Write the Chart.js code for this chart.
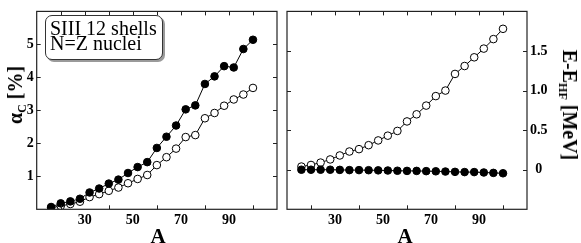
<!DOCTYPE html>
<html>
<head>
<meta charset="utf-8">
<script src="https://cdn.jsdelivr.net/npm/chart.js@4.4.1/dist/chart.umd.min.js"></script>
<style>
  html, body { margin: 0; padding: 0; background: #fff; }
  #wrap { position: relative; width: 581px; height: 243px; overflow: hidden; background: #fff; }
  .cv { position: absolute; top: 0; }
  .ttl { position: absolute; font-family: "Liberation Serif", "Times New Roman", serif; font-weight: bold; color: #000; white-space: nowrap; line-height: 1; }
  .ttl sub { font-size: 60%; vertical-align: baseline; position: relative; top: 0.3em; }
  #note { position: absolute; left: 45px; top: 15px; width: 112px; height: 38px; border: 1px solid #333; border-radius: 7px;
          box-shadow: 2px 2px 0 #9a9a9a; background: #fff; font-family: "Liberation Serif", "Times New Roman", serif;
          font-size: 20px; line-height: 15px; padding: 5px 0 0 4px; color: #000; white-space: nowrap; }
</style>
</head>
<body>
<div id="wrap">
  <canvas id="c1" class="cv" width="282" height="243" style="left:0px"></canvas>
  <canvas id="c2" class="cv" width="299" height="243" style="left:282px"></canvas>
  <div id="note">SIII 12 shells<br>N=Z nuclei</div>
  <div class="ttl" id="yl" style="font-size:20px;left:15px;top:95px;transform:translate(-50%,-50%) rotate(-90deg);">α<sub>C</sub> [%]</div>
  <div class="ttl" id="yr" style="font-size:20px;left:570px;top:105px;transform:translate(-50%,-50%) rotate(90deg);">E-E<sub>HF</sub> [MeV]</div>
  <div class="ttl" style="font-size:21px;left:158px;top:236px;transform:translate(-50%,-50%);">A</div>
  <div class="ttl" style="font-size:21px;left:405px;top:236px;transform:translate(-50%,-50%);">A</div>
</div>
<script>
// ---- data ----
const massNumbers = [16, 20, 24, 28, 32, 36, 40, 44, 48, 52, 56, 60, 64, 68, 72, 76, 80, 84, 88, 92, 96, 100];
const alphaFilled = [0.07, 0.18, 0.24, 0.32, 0.51, 0.63, 0.78, 0.90, 1.10, 1.28, 1.43, 1.86, 2.20, 2.54, 3.03, 3.15, 3.80, 4.03, 4.34, 4.30, 4.86, 5.14];
const alphaOpen   = [0.05, 0.10, 0.16, 0.23, 0.37, 0.46, 0.56, 0.66, 0.79, 0.92, 1.04, 1.34, 1.58, 1.84, 2.19, 2.25, 2.76, 2.92, 3.14, 3.33, 3.48, 3.68];
const energyFilled = [0.0, 0.0, 0.0, 0.0, -0.002, -0.005, -0.005, -0.006, -0.008, -0.01, -0.013, -0.015, -0.015, -0.018, -0.02, -0.023, -0.027, -0.03, -0.03, -0.035, -0.04, -0.045];
const energyOpen   = [0.04, 0.06, 0.09, 0.13, 0.18, 0.23, 0.26, 0.31, 0.37, 0.43, 0.49, 0.61, 0.70, 0.81, 0.93, 1.00, 1.21, 1.31, 1.42, 1.53, 1.65, 1.78];
const xLabelValues = [30, 50, 70, 90];
const xBottomTicks = [20, 40, 60, 80, 100];
const xTopTicks = [20, 30, 40, 50, 60, 70, 80, 90, 100];
const alphaTickValues = [1, 2, 3, 4, 5];
const energyTickValues = [0, 0.5, 1.0, 1.5];
const energyTickLabels = ['0', '0.5', '1.0', '1.5'];

const FONT = '"Liberation Serif", "Times New Roman", serif';
const tickFont = { family: FONT, size: 14, weight: 'bold' };

function pts(ys) { return massNumbers.map((a, i) => ({ x: a, y: ys[i] })); }

function framePlugin(yTicks) {
  return {
    id: 'frame',
    afterDraw(chart) {
      const { ctx, chartArea: ca, scales } = chart;
      const xs = scales.x, ys = scales.y;
      ctx.save();
      ctx.strokeStyle = '#222';
      ctx.lineWidth = 1.2;
      ctx.strokeRect(ca.left, ca.top, ca.right - ca.left, ca.bottom - ca.top);
      ctx.lineWidth = 1;
      ctx.beginPath();
      const L = 4;
      xBottomTicks.forEach(v => { const p = Math.round(xs.getPixelForValue(v)) + 0.5; ctx.moveTo(p, ca.bottom); ctx.lineTo(p, ca.bottom - L); });
      xTopTicks.forEach(v => { const p = Math.round(xs.getPixelForValue(v)) + 0.5; ctx.moveTo(p, ca.top); ctx.lineTo(p, ca.top + L); });
      yTicks.forEach(v => { const p = Math.round(ys.getPixelForValue(v)) + 0.5;
        ctx.moveTo(ca.left, p); ctx.lineTo(ca.left + L, p);
        ctx.moveTo(ca.right, p); ctx.lineTo(ca.right - L, p); });
      ctx.stroke();
      ctx.restore();
    }
  };
}

function xScale() {
  return {
    type: 'linear', min: 10, max: 110, position: 'bottom',
    afterBuildTicks(s) { s.ticks = xLabelValues.map(v => ({ value: v })); },
    ticks: { font: tickFont, color: '#000', maxRotation: 0, autoSkip: false, padding: 3,
             callback: v => String(v) },
    grid: { display: false, drawTicks: false }, border: { display: false },
    afterFit(s) { s.height = 243 - 209.3; }
  };
}

function series(filled, open) {
  return [
    { data: pts(filled), borderColor: '#000', borderWidth: 1, pointRadius: 3.8, pointBackgroundColor: '#000',
      pointBorderColor: '#000', pointBorderWidth: 1, showLine: true, tension: 0 },
    { data: pts(open), borderColor: '#000', borderWidth: 1, pointRadius: 3.8, pointBackgroundColor: '#fff',
      pointBorderColor: '#000', pointBorderWidth: 1, showLine: true, tension: 0 }
  ];
}

const common = {
  responsive: false, animation: false, devicePixelRatio: 1,
  plugins: { legend: { display: false }, tooltip: { enabled: false } },
};

new Chart(document.getElementById('c1'), {
  type: 'scatter',
  data: { datasets: series(alphaFilled, alphaOpen) },
  options: Object.assign({}, common, {
    layout: { padding: { top: 3.5, right: 2, left: 0, bottom: 0 } },
    scales: {
      x: xScale(),
      y: { type: 'linear', min: 0, max: 6, position: 'left',
           afterBuildTicks(s) { s.ticks = alphaTickValues.map(v => ({ value: v })); },
           ticks: { font: tickFont, color: '#000', padding: 3, callback: v => String(v) },
           grid: { display: false, drawTicks: false }, border: { display: false },
           afterFit(s) { s.width = 36.7; } }
    }
  }),
  plugins: [framePlugin(alphaTickValues)]
});

new Chart(document.getElementById('c2'), {
  type: 'scatter',
  data: { datasets: series(energyFilled, energyOpen) },
  options: Object.assign({}, common, {
    layout: { padding: { top: 3.5, right: 0, left: 1.3, bottom: 0 } },
    scales: {
      x: xScale(),
      y: { type: 'linear', min: -0.5, max: 2.0, position: 'right',
           afterBuildTicks(s) { s.ticks = energyTickValues.map(v => ({ value: v })); },
           ticks: { font: tickFont, color: '#000', padding: 3, crossAlign: 'center',
                    callback: (v) => energyTickLabels[energyTickValues.indexOf(v)] },
           grid: { display: false, drawTicks: false }, border: { display: false },
           afterFit(s) { s.width = 54; } }
    }
  }),
  plugins: [framePlugin(energyTickValues)]
});
</script>
</body>
</html>
